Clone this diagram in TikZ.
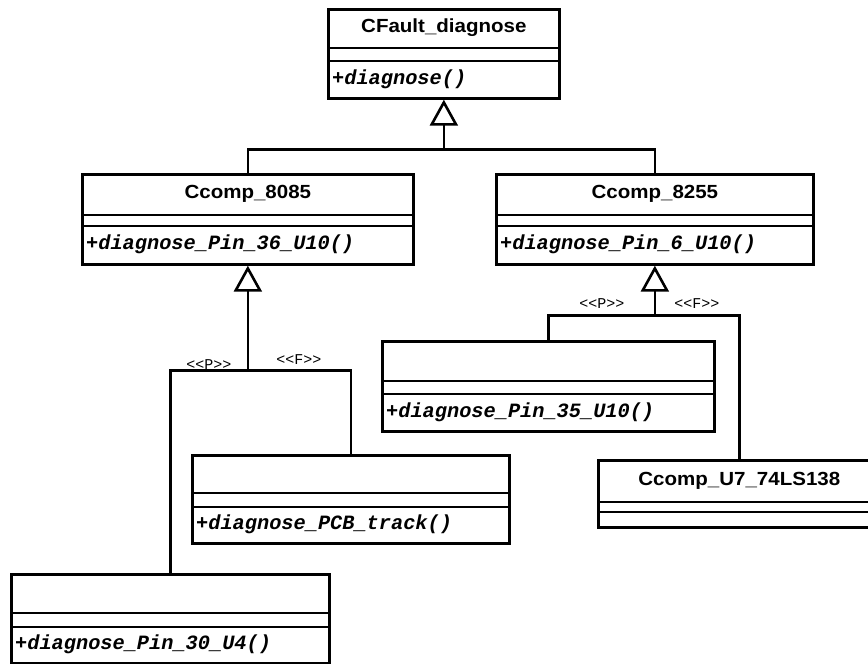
\documentclass[tikz,border=0pt]{standalone}
\usepackage{fontspec}
\usetikzlibrary{arrows.meta,calc}
\newfontfamily\clsfont[FakeStretch=1.08]{Liberation Sans}
\newfontfamily\opfont{Liberation Mono}

\tikzset{
  clsbox/.style={draw, line width=2.7pt, rectangle, inner sep=0pt, fill=white},
  sepline/.style={line width=2.4pt},
  clsname/.style={font=\clsfont\bfseries\fontsize{19}{22}\selectfont, inner sep=0pt},
  clsop/.style={font=\opfont\bfseries\itshape\fontsize{20.3}{22}\selectfont, inner sep=0pt, anchor=west},
  stereo/.style={font=\opfont\fontsize{15}{16}\selectfont, inner sep=0pt},
  gen/.style={line width=2.6pt, -{Triangle[open, length=26pt, width=28pt]}},
  assoc/.style={line width=2.6pt},
}

% #1 node name, #2 left, #3 top, #4 width, #5 name compartment height,
% #6 name + attribute height, #7 total height, #8 class name, #9 operation
\newcommand{\umlclass}[9]{%
  \node[clsbox, minimum width=#4pt, minimum height=#7pt, anchor=north west] (#1) at (#2pt,-#3pt) {};
  \draw[sepline] ([yshift=-#5pt]#1.north west) -- ([yshift=-#5pt]#1.north east);
  \draw[sepline] ([yshift=-#6pt]#1.north west) -- ([yshift=-#6pt]#1.north east);
  \node[clsname] (#1-name) at ($(#1.north)+(0,{-#5/2*1pt})$) {#8};
  \node[clsop] (#1-op) at ($(#1.north west)+(5pt,{-(#6+#7)/2*1pt})$) {#9};
}

\begin{document}
\begin{tikzpicture}[x=1pt,y=1pt]
  \useasboundingbox (0,0) rectangle (868,-664);
  \clip (0,0) rectangle (868,-664);

  \umlclass{fault}{327}{8}{231}{40}{53}{89}{CFault\_diagnose}{+diagnose()}
  \umlclass{c8085}{81}{173}{331}{42}{53}{90}{Ccomp\_8085}{+diagnose\_Pin\_36\_U10()}
  \umlclass{c8255}{495}{173}{317}{42}{53}{90}{Ccomp\_8255}{+diagnose\_Pin\_6\_U10()}
  \umlclass{p35}{381}{340}{332}{41}{54}{90}{}{+diagnose\_Pin\_35\_U10()}
  \umlclass{pcb}{191}{454}{317}{39}{53}{88}{}{+diagnose\_PCB\_track()}
  \umlclass{p30}{10}{573}{318}{40}{54}{89}{}{+diagnose\_Pin\_30\_U4()}
  \umlclass{u7}{597}{459}{282}{43}{53}{67}{Ccomp\_U7\_74LS138}{}

  % generalisation to CFault_diagnose
  \coordinate (j0) at ($(fault.south)+(0,-50)$);
  \draw[gen] (c8085.north) |- (j0) -- (fault.south);
  \draw[assoc] (c8255.north) |- (j0);

  % generalisation to Ccomp_8085
  \coordinate (j1) at ($(c8085.south)+(0,-105)$);
  \draw[gen] (p30.north) |- (j1) -- (c8085.south);
  \draw[assoc] (pcb.north) |- (j1);
  \node[stereo] (s1p) at ($(j1)+(-39,6)$) {<<P>>};
  \node[stereo] (s1f) at ($(j1)+(51,11)$) {<<F>>};

  % generalisation to Ccomp_8255
  \coordinate (j2) at ($(c8255.south)+(0,-50)$);
  \draw[gen] (p35.north) |- (j2) -- (c8255.south);
  \draw[assoc] (u7.north) |- (j2);
  \node[stereo] (s2p) at ($(j2)+(-53,12)$) {<<P>>};
  \node[stereo] (s2f) at ($(j2)+(42,12)$) {<<F>>};
\end{tikzpicture}
\end{document}
